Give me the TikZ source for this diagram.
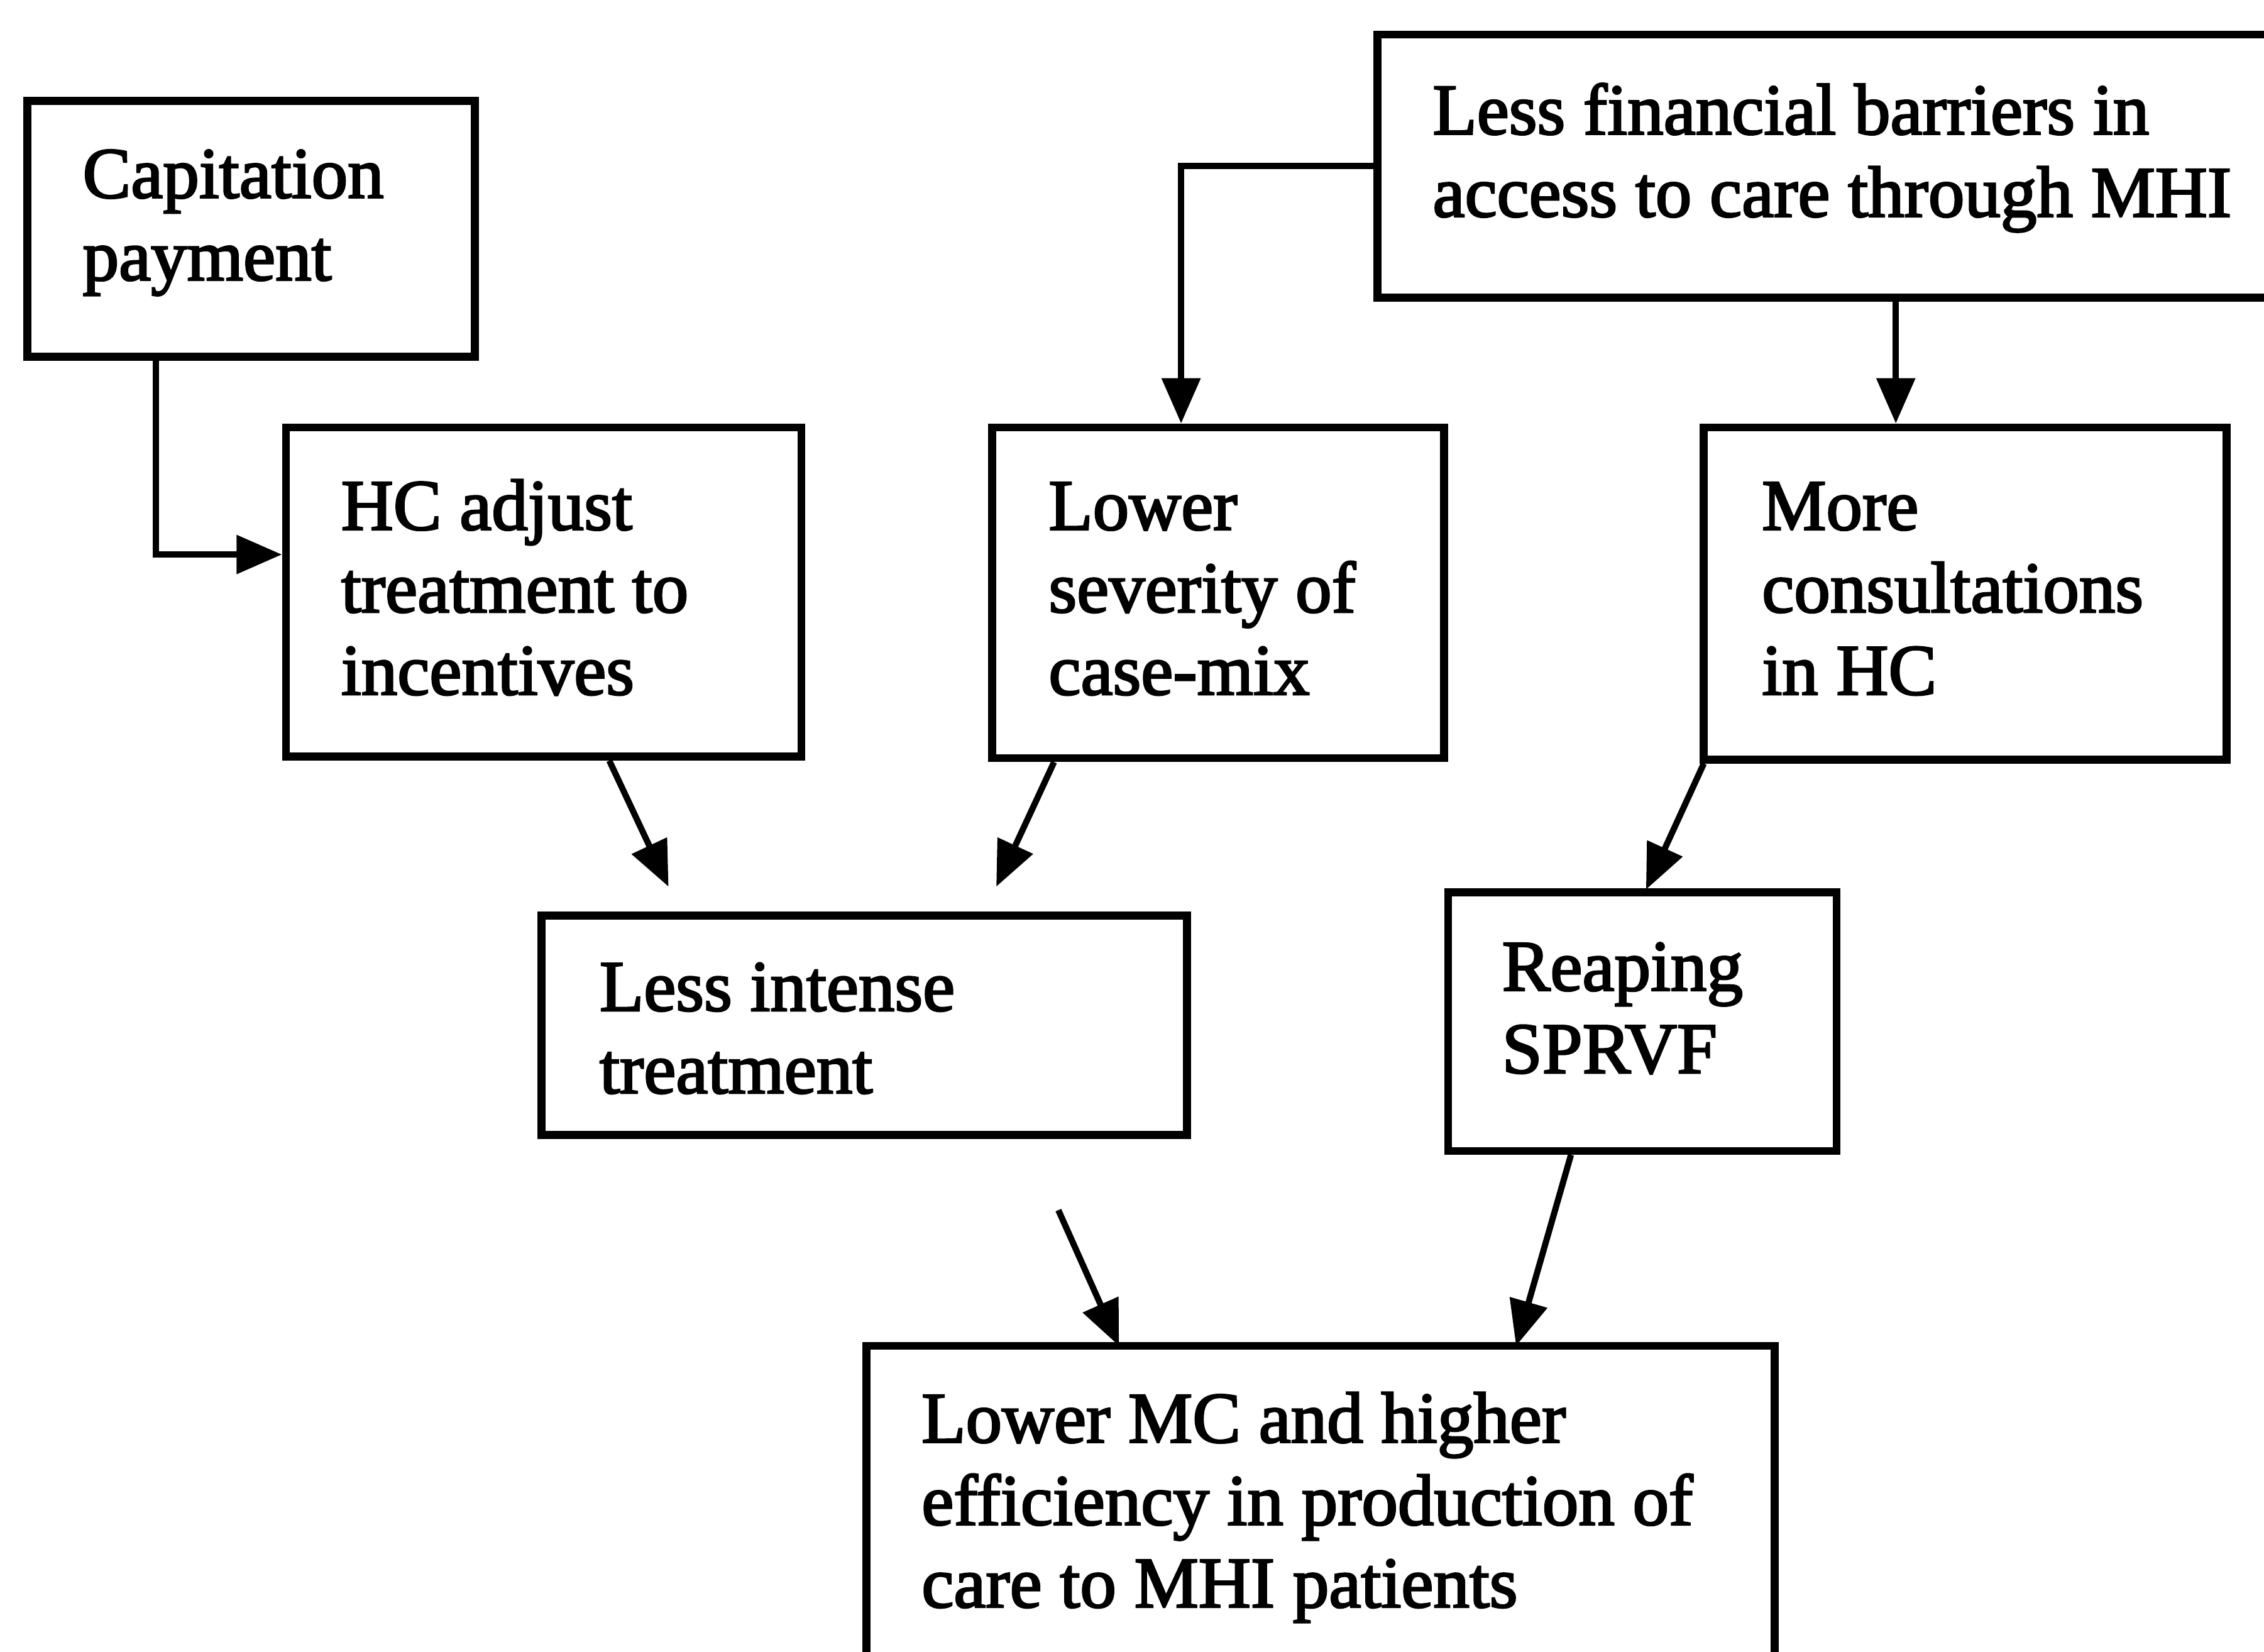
\documentclass[tikz,border=0pt]{standalone}
\usepackage{fontspec}
\setmainfont{Liberation Serif}[FakeBold=2.5]
\usetikzlibrary{arrows.meta,fit}
\begin{document}
\begin{tikzpicture}[x=0.02297cm,y=-0.02297cm,
  box/.style={draw,line width=3.6pt,inner sep=0pt,fill=none},
  txt/.style={align=left,inner sep=0pt,font=\fontsize{32.7}{37.3}\selectfont},
  arr/.style={line width=2.8pt,-{Triangle[length=0.72cm,width=0.6cm]}}]
\useasboundingbox (0,0) rectangle (1568,1144);
\fill[white] (0,0) rectangle (1568,1144);
% boxes
\node[box,fit={(19,70) (329,247)}] (cap) {};
\node[box,fit={(954,24) (1590,206)}] (lfb) {};
\node[box,fit={(198,296) (555,524)}] (hc) {};
\node[box,fit={(687,296) (1000,525)}] (ls) {};
\node[box,fit={(1180,296) (1542,526)}] (mc) {};
\node[box,fit={(375,634) (822,786)}] (li) {};
\node[box,fit={(1003,618) (1272,797)}] (reap) {};
\node[box,fit={(600,932) (1229,1180)}] (lmc) {};
% texts (anchor at baseline of last line)
\node[txt,anchor=base west] (capT) at (57,194) {Capitation\\payment};
\node[txt,anchor=base west] (lfbT) at (992,150) {Less financial barriers in\\access to care through MHI};
\node[txt,anchor=base west] (hcT) at (236,481) {HC adjust\\treatment to\\incentives};
\node[txt,anchor=base west] (lsT) at (726,481) {Lower\\severity of\\case-mix};
\node[txt,anchor=base west] (mcT) at (1220,481) {More\\consultations\\in HC};
\node[txt,anchor=base west] (liT) at (415,757) {Less intense\\treatment};
\node[txt,anchor=base west] (reapT) at (1040,743) {Reaping\\SPRVF};
\node[txt,anchor=base west] (lmcT) at (638,1113) {Lower MC and higher\\efficiency in production of\\care to MHI patients};
% connector helper coordinates
\coordinate (capk) at (108,384);
\coordinate (lfbk) at (818,115);
\coordinate (lfbm) at (1313,0);
\coordinate (a1s) at (422,0);
\coordinate (a1e) at (463,614);
\coordinate (a2s) at (730,0);
\coordinate (a2e) at (690,614);
\coordinate (a3s) at (1180,0);
\coordinate (a3e) at (1140,616);
\coordinate (a4s) at (733,838);
\coordinate (a4e) at (775,932);
\coordinate (a5s) at (1088,0);
\coordinate (a5e) at (1050,932);
% connectors
\draw[arr] (cap.south -| capk) -- (capk) -- (hc.west |- capk);
\draw[arr] (lfb.west |- lfbk) -- (lfbk) -- (ls.north -| lfbk);
\draw[arr] (lfb.south -| lfbm) -- (mc.north -| lfbm);
\draw[arr] (hc.south -| a1s) -- (a1e);
\draw[arr] (ls.south -| a2s) -- (a2e);
\draw[arr] (mc.south -| a3s) -- (a3e);
\draw[arr] (a4s) -- (a4e);
\draw[arr] (reap.south -| a5s) -- (a5e);
\end{tikzpicture}
\end{document}
